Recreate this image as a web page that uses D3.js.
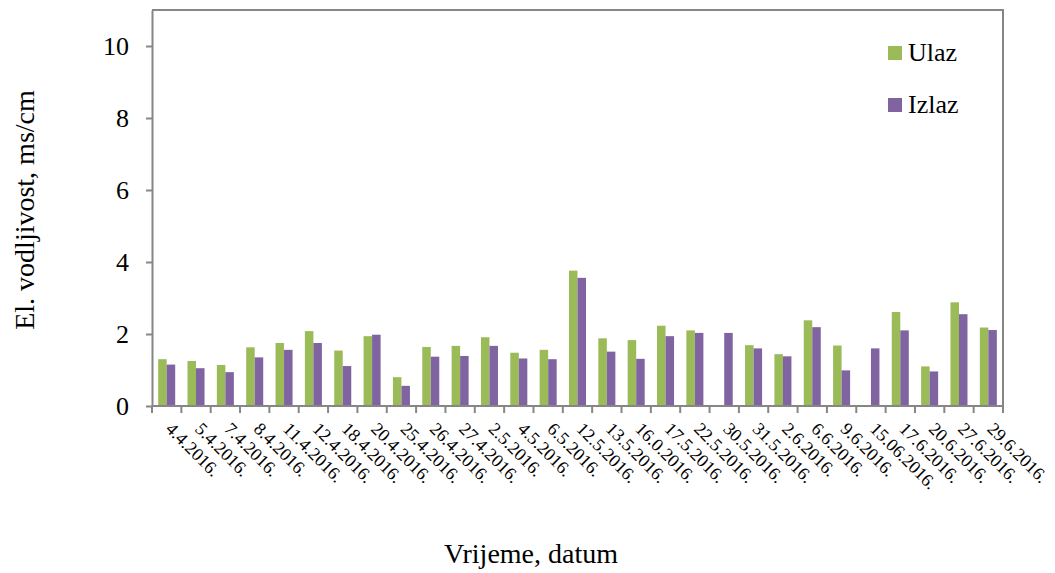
<!DOCTYPE html>
<html>
<head>
<meta charset="utf-8">
<script src="https://cdn.jsdelivr.net/npm/d3@7"></script>
<style>
	body { margin: 0; background: #fff; }
</style>
</head>
<body>
<div id="chart"></div>
<script>
let dates = ['4.4.2016.', '5.4.2016.', '7.4.2016.', '8.4.2016.', '11.4.2016.', '12.4.2016.',
	'18.4.2016.', '20.4.2016.', '25.4.2016.', '26.4.2016.', '27.4.2016.', '2.5.2016.',
	'4.5.2016.', '6.5.2016.', '12.5.2016.', '13.5.2016.', '16.0.2016.', '17.5.2016.',
	'22.5.2016.', '30.5.2016.', '31.5.2016.', '2.6.2016.', '6.6.2016.', '9.6.2016.',
	'15.06.2016.', '17.6.2016.', '20.6.2016.', '27.6.2016.', '29.6.2016.'];

let ulaz = [1.30, 1.25, 1.14, 1.63, 1.75, 2.08, 1.54, 1.94, 0.80, 1.64, 1.67, 1.91,
	1.48, 1.56, 3.76, 1.88, 1.83, 2.23, 2.10, 0, 1.69, 1.44, 2.38, 1.68,
	0, 2.61, 1.10, 2.88, 2.18];

let izlaz = [1.15, 1.05, 0.94, 1.35, 1.56, 1.75, 1.11, 1.98, 0.56, 1.37, 1.39, 1.67,
	1.32, 1.30, 3.56, 1.51, 1.31, 1.94, 2.03, 2.03, 1.60, 1.38, 2.19, 0.99,
	1.60, 2.10, 0.96, 2.55, 2.11];

let series_names = ['Ulaz', 'Izlaz'];
let y_ticks = [0, 2, 4, 6, 8, 10];

let colors = ['#9BBB59', '#8064A2'];
let font = '"Liberation Serif", "Times New Roman", serif';

let margins = {left: 152, right: 52, top: 10, bottom: 167},
	full_width = 1055,
	full_height = 573,
	width = full_width - margins.left - margins.right,
	height = full_height - margins.top - margins.bottom;

let x = d3.scaleBand()
	.domain(dates)
	.range([0, width])
	.paddingInner(0.42)
	.paddingOuter(0.21);

let x_inner = d3.scaleBand()
	.domain(series_names)
	.range([0, x.bandwidth()]);

let y = d3.scaleLinear()
	.domain([0, 11])
	.range([height, 0]);

let svg = d3.select('#chart')
	.append('svg')
	.attr('width', full_width)
	.attr('height', full_height);

let g = svg.append('g')
	.attr('transform', 'translate(' + margins.left + ',' + margins.top + ')');

// plot area frame (top and right)
g.append('path')
	.attr('d', 'M0,0H' + width + 'V' + height)
	.attr('fill', 'none')
	.attr('stroke', '#868686')
	.attr('stroke-width', 2);

let rows = dates.map(function(d, i) {
	return {date: d, values: [ulaz[i], izlaz[i]]};
});

let groups = g.selectAll('.group')
	.data(rows)
	.enter()
	.append('g')
	.attr('class', 'group')
	.attr('transform', function(d) { return 'translate(' + x(d.date) + ',0)'; });

groups.selectAll('rect')
	.data(function(d) {
		return d.values.map(function(v, k) { return {name: series_names[k], value: v, k: k}; });
	})
	.enter()
	.filter(function(d) { return d.value > 0; })
	.append('rect')
	.attr('x', function(d) { return x_inner(d.name); })
	.attr('y', function(d) { return y(d.value); })
	.attr('width', x_inner.bandwidth())
	.attr('height', function(d) { return height - y(d.value); })
	.attr('fill', function(d) { return colors[d.k]; });

// y axis
let yAxis = d3.axisLeft(y)
	.tickValues(y_ticks)
	.tickSize(6)
	.tickSizeOuter(0)
	.tickPadding(17);

let ya = g.append('g')
	.call(yAxis);
ya.select('.domain').attr('stroke', '#868686').attr('stroke-width', 2);
ya.selectAll('.tick line').attr('stroke', '#868686').attr('stroke-width', 2);
ya.selectAll('.tick text')
	.style('font-family', font)
	.style('font-size', '26px')
	.attr('fill', '#000');

// x axis: ticks at category boundaries
let step = x.step();
let boundaries = d3.range(dates.length + 1).map(function(i) { return i * step; });

let xa = g.append('g')
	.attr('transform', 'translate(0,' + height + ')');

xa.append('line')
	.attr('x1', 0).attr('x2', width)
	.attr('stroke', '#868686')
	.attr('stroke-width', 2);

xa.selectAll('.xtick')
	.data(boundaries)
	.enter()
	.append('line')
	.attr('x1', function(d) { return d; })
	.attr('x2', function(d) { return d; })
	.attr('y1', 0)
	.attr('y2', 7)
	.attr('stroke', '#868686')
	.attr('stroke-width', 2);

xa.selectAll('.xlabel')
	.data(dates)
	.enter()
	.append('text')
	.attr('class', 'xlabel')
	.attr('transform', function(d) {
		return 'translate(' + (x(d) + x.bandwidth() / 2 - 2) + ',24) rotate(45)';
	})
	.attr('text-anchor', 'start')
	.style('font-family', font)
	.style('font-size', '18px')
	.text(function(d) { return d; });

// axis titles
svg.append('text')
	.attr('transform', 'translate(34,210) rotate(-90)')
	.attr('text-anchor', 'middle')
	.style('font-family', font)
	.style('font-size', '28px')
	.text('El. vodljivost, ms/cm');

svg.append('text')
	.attr('x', 531)
	.attr('y', 563)
	.attr('text-anchor', 'middle')
	.style('font-family', font)
	.style('font-size', '28px')
	.text('Vrijeme, datum');

// legend
let legend = svg.append('g')
	.attr('transform', 'translate(888,46)');

let items = legend.selectAll('.item')
	.data(series_names)
	.enter()
	.append('g')
	.attr('transform', function(d, i) { return 'translate(0,' + (i * 52) + ')'; });

items.append('rect')
	.attr('width', 14)
	.attr('height', 14)
	.attr('fill', function(d, i) { return colors[i]; });

items.append('text')
	.attr('x', 20)
	.attr('y', 15)
	.style('font-family', font)
	.style('font-size', '26px')
	.text(function(d) { return d; });
</script>
</body>
</html>
